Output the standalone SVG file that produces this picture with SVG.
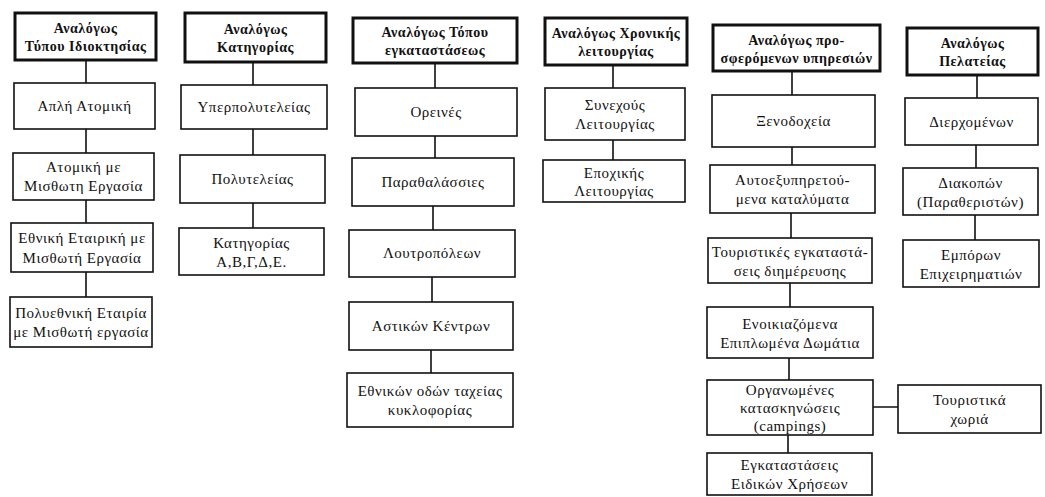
<svg xmlns="http://www.w3.org/2000/svg" width="1045" height="497" viewBox="0 0 1045 497">
<style>
.box{fill:#fff;stroke:#111;stroke-width:1.6}
.hdr{fill:#fff;stroke:#111;stroke-width:3}
.t{font-family:"Liberation Serif","DejaVu Serif",serif;font-size:15px;letter-spacing:0.5px;fill:#111;text-anchor:middle}
.th{font-family:"Liberation Serif","DejaVu Serif",serif;font-size:14px;letter-spacing:0.5px;font-weight:bold;fill:#111;text-anchor:middle}
.c{stroke:#111;stroke-width:1.6;fill:none}
</style>
<rect width="1045" height="497" fill="#fff"/>
<g id="connectors">
<path class="c" d="M86 60V83M86 129V153M86 200V223M86 272V297"/>
<path class="c" d="M253 62V85M253 129V155M253 203V228"/>
<path class="c" d="M435 63V88M435 136V158M433 206V230M432 277V302M431 350V373"/>
<path class="c" d="M613 65V88M613 140V160"/>
<path class="c" d="M792 71V95M792 147V165M791 213V238M790 283V307M789 358V380M788 435V453M873 407H898"/>
<path class="c" d="M977 75V98M976 145V168M975 215V240"/>
</g>
<g id="h1"><rect class="hdr" x="15" y="13" width="141" height="47"/><text class="th" x="85.5" y="33">Αναλόγως</text><text class="th" x="85.5" y="51">Τύπου Ιδιοκτησίας</text></g>
<g id="n1a"><rect class="box" x="14" y="83" width="141" height="46"/><text class="t" x="84.5" y="111">Απλή Ατομική</text></g>
<g id="n1b"><rect class="box" x="13" y="153" width="141" height="47"/><text class="t" x="83.5" y="172">Ατομική με</text><text class="t" x="83.5" y="191">Μισθωτη Εργασία</text></g>
<g id="n1c"><rect class="box" x="11" y="223" width="142" height="49"/><text class="t" x="82" y="243">Εθνική Εταιρική με</text><text class="t" x="82" y="263">Μισθωτή Εργασία</text></g>
<g id="n1d"><rect class="box" x="10" y="297" width="142" height="50"/><text class="t" x="81" y="318">Πολυεθνική Εταιρία</text><text class="t" x="81" y="337">με Μισθωτή εργασία</text></g>

<g id="h2"><rect class="hdr" x="185" y="13" width="141" height="49"/><text class="th" x="255.5" y="34">Αναλόγως</text><text class="th" x="255.5" y="52">Κατηγορίας</text></g>
<g id="n2a"><rect class="box" x="181" y="85" width="146" height="44"/><text class="t" x="254" y="112">Υπερπολυτελείας</text></g>
<g id="n2b"><rect class="box" x="180" y="155" width="145" height="48"/><text class="t" x="252.5" y="184">Πολυτελείας</text></g>
<g id="n2c"><rect class="box" x="179" y="228" width="145" height="47"/><text class="t" x="251.5" y="248">Κατηγορίας</text><text class="t" x="251.5" y="267">Α,Β,Γ,Δ,Ε.</text></g>

<g id="h3"><rect class="hdr" x="353" y="18" width="164" height="45"/><text class="th" x="435" y="37">Αναλόγως Τόπου</text><text class="th" x="435" y="55">εγκαταστάσεως</text></g>
<g id="n3a"><rect class="box" x="355" y="88" width="162" height="48"/><text class="t" x="436" y="117">Ορεινές</text></g>
<g id="n3b"><rect class="box" x="352" y="158" width="162" height="48"/><text class="t" x="433" y="187">Παραθαλάσσιες</text></g>
<g id="n3c"><rect class="box" x="349" y="230" width="166" height="47"/><text class="t" x="432" y="258">Λουτροπόλεων</text></g>
<g id="n3d"><rect class="box" x="349" y="302" width="164" height="48"/><text class="t" x="431" y="331">Αστικών Κέντρων</text></g>
<g id="n3e"><rect class="box" x="347" y="373" width="166" height="54"/><text class="t" x="430" y="396">Εθνικών οδών ταχείας</text><text class="t" x="430" y="415">κυκλοφορίας</text></g>

<g id="h4"><rect class="hdr" x="545" y="18" width="142" height="47"/><text class="th" x="616" y="38">Αναλόγως Χρονικής</text><text class="th" x="616" y="56">λειτουργίας</text></g>
<g id="n4a"><rect class="box" x="545" y="88" width="140" height="52"/><text class="t" x="615" y="110">Συνεχούς</text><text class="t" x="615" y="129">Λειτουργίας</text></g>
<g id="n4b"><rect class="box" x="543" y="160" width="142" height="42"/><text class="t" x="614" y="178">Εποχικής</text><text class="t" x="614" y="196">Λειτουργίας</text></g>

<g id="h5"><rect class="hdr" x="713" y="25" width="167" height="46"/><text class="th" x="796.5" y="45">Αναλόγως προ-</text><text class="th" x="796.5" y="63">σφερόμενων υπηρεσιών</text></g>
<g id="n5a"><rect class="box" x="712" y="95" width="163" height="52"/><text class="t" x="793.5" y="126">Ξενοδοχεία</text></g>
<g id="n5b"><rect class="box" x="710" y="165" width="165" height="48"/><text class="t" x="792.5" y="185">Αυτοεξυπηρετού-</text><text class="t" x="792.5" y="204">μενα καταλύματα</text></g>
<g id="n5c"><rect class="box" x="708" y="238" width="164" height="45"/><text class="t" x="790" y="257">Τουριστικές εγκαταστά-</text><text class="t" x="790" y="276">σεις διημέρευσης</text></g>
<g id="n5d"><rect class="box" x="707" y="307" width="166" height="51"/><text class="t" x="790" y="329">Ενοικιαζόμενα</text><text class="t" x="790" y="348">Επιπλωμένα Δωμάτια</text></g>
<g id="n5e"><rect class="box" x="707" y="380" width="166" height="55"/><text class="t" x="790" y="395">Οργανωμένες</text><text class="t" x="790" y="413">κατασκηνώσεις</text><text class="t" x="790" y="431">(campings)</text></g>
<g id="n5f"><rect class="box" x="707" y="453" width="165" height="42"/><text class="t" x="789.5" y="470">Εγκαταστάσεις</text><text class="t" x="789.5" y="489">Ειδικών Χρήσεων</text></g>
<g id="n5g"><rect class="box" x="898" y="385" width="143" height="48"/><text class="t" x="969.5" y="405">Τουριστικά</text><text class="t" x="969.5" y="424">χωριά</text></g>

<g id="h6"><rect class="hdr" x="907" y="28" width="131" height="47"/><text class="th" x="972.5" y="48">Αναλόγως</text><text class="th" x="972.5" y="66">Πελατείας</text></g>
<g id="n6a"><rect class="box" x="905" y="98" width="133" height="47"/><text class="t" x="971.5" y="127">Διερχομένων</text></g>
<g id="n6b"><rect class="box" x="903" y="168" width="135" height="47"/><text class="t" x="970.5" y="188">Διακοπών</text><text class="t" x="970.5" y="207">(Παραθεριστών)</text></g>
<g id="n6c"><rect class="box" x="903" y="240" width="136" height="47"/><text class="t" x="971" y="260">Εμπόρων</text><text class="t" x="971" y="279">Επιχειρηματιών</text></g>
</svg>
